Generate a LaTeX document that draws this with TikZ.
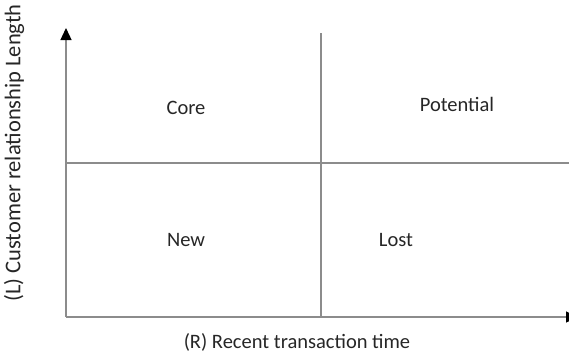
\documentclass[tikz,border=0pt]{standalone}
\usepackage{fontspec}
\setmainfont{Carlito}
\usetikzlibrary{arrows.meta}
\begin{document}
\begin{tikzpicture}[x=1pt,y=-1pt,
  gridline/.style={draw=black!45,line width=1.3pt},
  axisline/.style={gridline,-{Triangle[width=11pt,length=12pt,color=black]}},
  lbl/.style={font=\fontsize{20.5}{24}\selectfont,text=black!85,inner sep=0pt}]
\clip (0,0) rectangle (569,354);
\useasboundingbox (0,0) rectangle (569,354);
\coordinate (O) at (66,317);
\coordinate (ytop) at (66,28);
\coordinate (xend) at (578,317);
\coordinate (mtop) at (321,33);
\coordinate (mbot) at (321,317);
\coordinate (hl) at (66,163);
\coordinate (hr) at (569,163);
\draw[gridline] (mtop) -- (mbot);
\draw[gridline] (hl) -- (hr);
\draw[axisline] (O) -- (ytop);
\draw[axisline] (O) -- (xend);
\node[lbl] (core) at (186,108) {Core};
\node[lbl] (potential) at (457,104) {Potential};
\node[lbl] (new) at (186,240) {New};
\node[lbl] (lost) at (396,240) {Lost};
\node[lbl] (xlab) at (297,342) {(R) Recent transaction time};
\node[lbl,font=\fontsize{22.5}{26}\selectfont,rotate=90] (ylab) at (14,153) {(L) Customer relationship Length};
\end{tikzpicture}
\end{document}
